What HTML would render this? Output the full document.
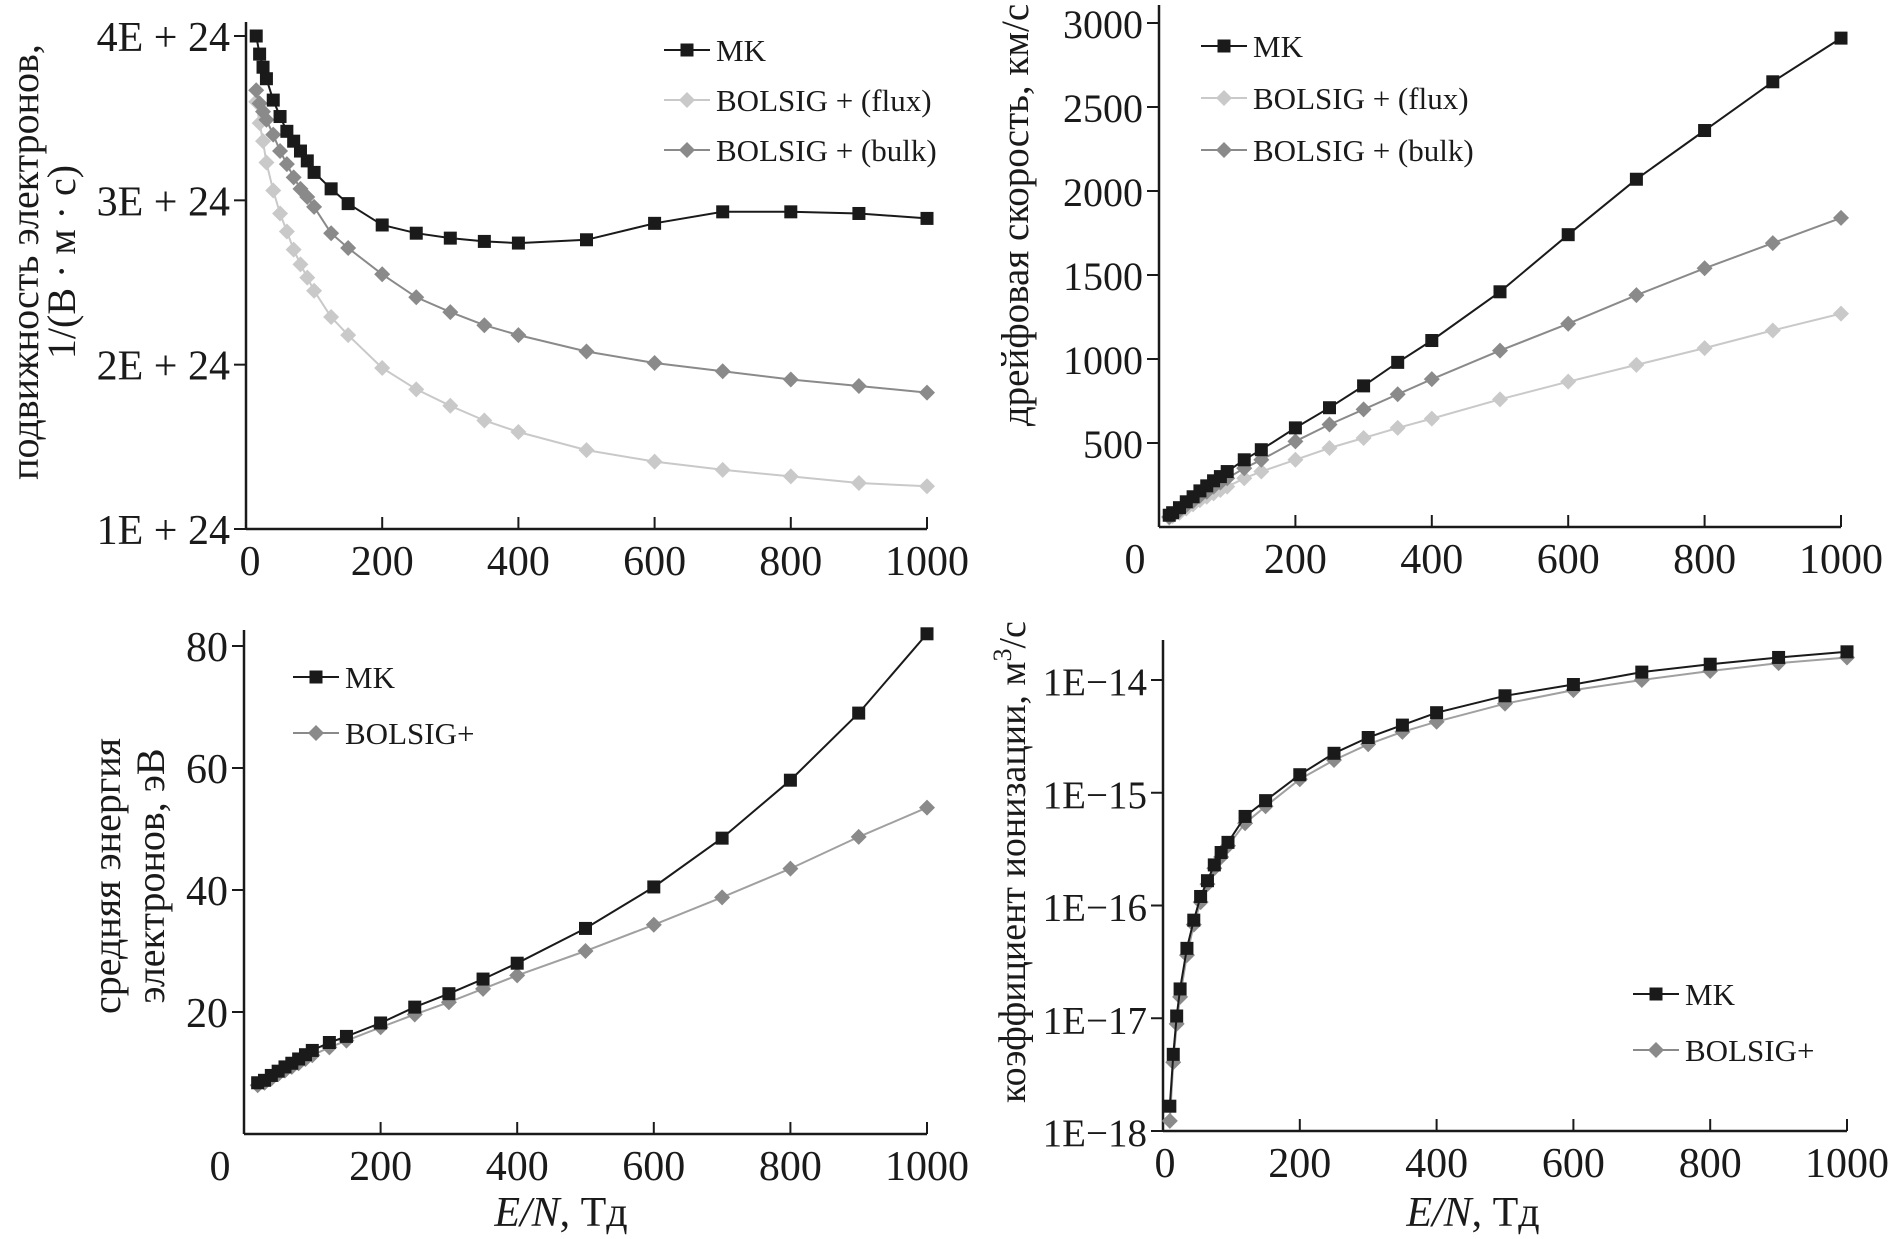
<!DOCTYPE html>
<html><head><meta charset="utf-8">
<style>
html,body{margin:0;padding:0;background:#fff;}
svg{display:block;font-family:"Liberation Serif","DejaVu Serif",serif;}
</style></head>
<body>
<svg id="fig" width="1893" height="1239" viewBox="0 0 1893 1239" xmlns="http://www.w3.org/2000/svg"></svg>
<script>
// ---------- data ----------
const xMob = [15,20,25,30,40,50,60,70,80,90,100,125,150,200,250,300,350,400,500,600,700,800,900,1000];
const mobMK   = [4.0,3.89,3.81,3.74,3.61,3.51,3.42,3.36,3.30,3.24,3.17,3.07,2.98,2.85,2.80,2.77,2.75,2.74,2.76,2.86,2.93,2.93,2.92,2.89];
const mobFlux = [3.60,3.47,3.36,3.23,3.06,2.92,2.81,2.70,2.61,2.53,2.45,2.29,2.18,1.98,1.85,1.75,1.66,1.59,1.48,1.41,1.36,1.32,1.28,1.26];
const mobBulk = [3.67,3.59,3.54,3.49,3.40,3.30,3.22,3.14,3.07,3.02,2.96,2.80,2.71,2.55,2.41,2.32,2.24,2.18,2.08,2.01,1.96,1.91,1.87,1.83];
const mobTicks = [1,2,3,4];
const mobTickLabels = ["1E + 24","2E + 24","3E + 24","4E + 24"];

const xVel = [15,20,30,40,50,60,70,80,90,100,125,150,200,250,300,350,400,500,600,700,800,900,1000];
const velMK   = [70,85,115,150,180,215,245,275,300,330,400,460,590,710,840,980,1110,1400,1740,2070,2360,2650,2910];
const velFlux = [55,65,85,110,135,160,180,200,220,240,290,330,400,470,530,590,645,760,865,965,1065,1170,1270];
const velBulk = [60,75,100,130,155,185,210,240,265,290,350,400,510,610,700,790,880,1050,1210,1380,1540,1690,1840];
const velTicks = [500,1000,1500,2000,2500,3000];

const xEn = [20,30,40,50,60,70,80,90,100,125,150,200,250,300,350,400,500,600,700,800,900,1000];
const enMK  = [8.4,8.8,9.6,10.3,11.0,11.6,12.3,13.0,13.7,15.0,16.0,18.2,20.8,23.0,25.4,28.0,33.7,40.5,48.5,58.0,69.0,82.0];
const enBol = [8.0,8.4,9.1,9.8,10.4,11.0,11.6,12.3,12.9,14.2,15.3,17.5,19.6,21.6,23.8,26.0,30.0,34.3,38.8,43.5,48.7,53.5];
const enTicks = [20,40,60,80];

const xIon = [10,15,20,25,35,45,55,65,75,85,95,120,150,200,250,300,350,400,500,600,700,800,900,1000];
const ionMK  = [-17.78,-17.32,-16.98,-16.74,-16.38,-16.13,-15.92,-15.78,-15.64,-15.53,-15.44,-15.21,-15.07,-14.84,-14.65,-14.51,-14.40,-14.29,-14.14,-14.04,-13.93,-13.86,-13.80,-13.75];
const ionBol = [-17.91,-17.39,-17.05,-16.81,-16.44,-16.17,-15.97,-15.81,-15.67,-15.57,-15.47,-15.27,-15.12,-14.88,-14.71,-14.57,-14.46,-14.37,-14.21,-14.09,-14.00,-13.92,-13.85,-13.80];
const ionTicks = [-18,-17,-16,-15,-14];
const ionTickLabels = ["1E\u221218","1E\u221217","1E\u221216","1E\u221215","1E\u221214"];

const xTicks = [0,200,400,600,800,1000];

// ---------- helpers ----------
const NS = "http://www.w3.org/2000/svg";
const svg = document.getElementById("fig");
function el(tag, attrs, parent){
  const e = document.createElementNS(NS, tag);
  for (const k in attrs) e.setAttribute(k, attrs[k]);
  (parent||svg).appendChild(e);
  return e;
}
function linScale(d0,d1,r0,r1){ return v => r0 + (v-d0)*(r1-r0)/(d1-d0); }

function marker(g, type, cx, cy, fill){
  let m;
  if (type === "sq") {
    m = el("rect", {x:cx-6.5, y:cy-6.5, width:13, height:13, fill:fill}, g);
  } else {
    const r = 8;
    m = el("polygon", {points:`${cx},${cy-r} ${cx+r},${cy} ${cx},${cy+r} ${cx-r},${cy}`, fill:fill}, g);
  }
  
  
}

function series(name, xs, ys, sx, sy, lineColor, markColor, type){
  const g = el("g", {});
  
  
  const pts = xs.map((x,i)=>sx(x).toFixed(1)+","+sy(ys[i]).toFixed(1)).join(" ");
  const pl = el("polyline", {points:pts, fill:"none", stroke:lineColor, "stroke-width":2}, g);
  
  
  xs.forEach((x,i)=>marker(g, type, sx(x), sy(ys[i]), markColor));
}

function text(str, x, y, size, anchor, parent, name, extra){
  const t = el("text", Object.assign({x:x, y:y, "font-size":size, "text-anchor":anchor||"start", fill:"#1a1a1a"}, extra||{}), parent);
  t.textContent = str;
  
  
  return t;
}

function axes(p){
  const g = el("g", {});
  
  
  const yl = el("line", {x1:p.x0, y1:p.top, x2:p.x0, y2:p.yb, stroke:"#1a1a1a", "stroke-width":2.5}, g);
  
  
  const xl = el("line", {x1:p.x0, y1:p.yb, x2:p.sx(1000), y2:p.yb, stroke:"#1a1a1a", "stroke-width":2.5}, g);
  
  
  xTicks.forEach(v=>{
    const X = p.sx(v);
    if (v>0){
      const t = el("line", {x1:X, y1:p.yb, x2:X, y2:p.yb-12, stroke:"#1a1a1a", "stroke-width":2}, g);
      
      
    }
    text(String(v), v===0 ? p.zeroX : X, p.yb+46, 42, "middle", g, 'x-tick-label');
  });
  p.yTicks.forEach((v,i)=>{
    const Y = p.sy(v);
    const t = el("line", {x1:p.x0-12, y1:Y, x2:p.x0, y2:Y, stroke:"#1a1a1a", "stroke-width":2}, g);
    
    
    text(p.yLabels[i], p.x0-16, Y+15, p.yFont||42, "end", g, 'y-tick-label');
  });
}

function legend(items, lx, ty, dy, name){
  const g = el("g", {});
  
  
  items.forEach((it,i)=>{
    const y = ty + i*dy;
    const e = el("g", {}, g);
    
    
    const l = el("line", {x1:lx, y1:y, x2:lx+46, y2:y, stroke:it.line, "stroke-width":2}, e);
    
    
    marker(e, it.type, lx+23, y, it.mark);
    text(it.label, lx+52, y+11, 31, "start", e, 'legend-label');
  });
}

function xTitle(cx, name){
  const t = el("text", {x:cx, y:1226, "font-size":42, "text-anchor":"middle", fill:"#1a1a1a"});
  
  
  const a = document.createElementNS(NS,"tspan"); a.setAttribute("font-style","italic"); a.textContent="E/N"; t.appendChild(a);
  const b = document.createElementNS(NS,"tspan"); b.textContent=", Тд"; t.appendChild(b);
}

const DARK="#1a1a1a", LIGHT="#c9c9c9", MID="#8a8a8a";

// ---------- panel 1: mobility ----------
{
  const sx = linScale(0,1000,246,927), sy = linScale(1,4,529,36);
  axes({name:"mobility", x0:246, yb:529, top:22, sx, sy, yTicks:mobTicks, yLabels:mobTickLabels, zeroX:250});
  series("mobility-flux", xMob, mobFlux, sx, sy, LIGHT, LIGHT, "di");
  series("mobility-bulk", xMob, mobBulk, sx, sy, MID, MID, "di");
  series("mobility-mk", xMob, mobMK, sx, sy, DARK, DARK, "sq");
  legend([{label:"MK",line:DARK,mark:DARK,type:"sq"},{label:"BOLSIG + (flux)",line:LIGHT,mark:LIGHT,type:"di"},{label:"BOLSIG + (bulk)",line:MID,mark:MID,type:"di"}],664,50,50,"mobility-legend");
  text("подвижность электронов,", 0,0,40,"middle",null,"mobility-y-title-line1",{transform:"translate(38,262) rotate(-90)"});
  text("1/(В · м · с)", 0,0,40,"middle",null,"mobility-y-title-line2",{transform:"translate(75,262) rotate(-90)"});
}
// ---------- panel 2: drift velocity ----------
{
  const sx = linScale(0,1000,1159,1841), sy = linScale(0,3000,527,23);
  axes({name:"velocity", x0:1159, yb:527, top:5, sx, sy, yTicks:velTicks, yLabels:velTicks.map(String), zeroX:1135, yFont:40});
  series("velocity-flux", xVel, velFlux, sx, sy, LIGHT, LIGHT, "di");
  series("velocity-bulk", xVel, velBulk, sx, sy, MID, MID, "di");
  series("velocity-mk", xVel, velMK, sx, sy, DARK, DARK, "sq");
  legend([{label:"MK",line:DARK,mark:DARK,type:"sq"},{label:"BOLSIG + (flux)",line:LIGHT,mark:LIGHT,type:"di"},{label:"BOLSIG + (bulk)",line:MID,mark:MID,type:"di"}],1201,46,52,"velocity-legend");
  text("дрейфовая скорость, км/с", 0,0,39,"middle",null,"velocity-y-title",{transform:"translate(1028,215) rotate(-90)"});
}
// ---------- panel 3: energy ----------
{
  const sx = linScale(0,1000,244,927), sy = linScale(0,80,1134,646);
  axes({name:"energy", x0:244, yb:1134, top:630, sx, sy, yTicks:enTicks, yLabels:enTicks.map(String), zeroX:220});
  series("energy-bolsig", xEn, enBol, sx, sy, "#a0a0a0", MID, "di");
  series("energy-mk", xEn, enMK, sx, sy, DARK, DARK, "sq");
  legend([{label:"MK",line:DARK,mark:DARK,type:"sq"},{label:"BOLSIG+",line:MID,mark:MID,type:"di"}],293,677,56,"energy-legend");
  text("средняя энергия", 0,0,40,"middle",null,"energy-y-title-line1",{transform:"translate(120,876) rotate(-90)"});
  text("электронов, эВ", 0,0,40,"middle",null,"energy-y-title-line2",{transform:"translate(164,876) rotate(-90)"});
  xTitle(561, "x-axis-title-left");
}
// ---------- panel 4: ionization ----------
{
  const sx = linScale(0,1000,1163,1847), sy = linScale(-18,-14,1131,680);
  axes({name:"ionization", x0:1163, yb:1131, top:640, sx, sy, yTicks:ionTicks, yLabels:ionTickLabels, zeroX:1165, yFont:39});
  series("ionization-bolsig", xIon, ionBol, sx, sy, "#a0a0a0", MID, "di");
  series("ionization-mk", xIon, ionMK, sx, sy, DARK, DARK, "sq");
  legend([{label:"MK",line:DARK,mark:DARK,type:"sq"},{label:"BOLSIG+",line:MID,mark:MID,type:"di"}],1633,994,56,"ionization-legend");
  const t = text("коэффициент ионизации, м", 0,0,38,"middle",null,"ionization-y-title",{transform:"translate(1025,862) rotate(-90)"});
  const s = document.createElementNS(NS,"tspan"); s.setAttribute("dy","-14"); s.setAttribute("font-size","26"); s.textContent="3"; t.appendChild(s);
  const s2 = document.createElementNS(NS,"tspan"); s2.setAttribute("dy","14"); s2.textContent="/с"; t.appendChild(s2);
  xTitle(1473, "x-axis-title-right");
}
</script>
</body></html>
